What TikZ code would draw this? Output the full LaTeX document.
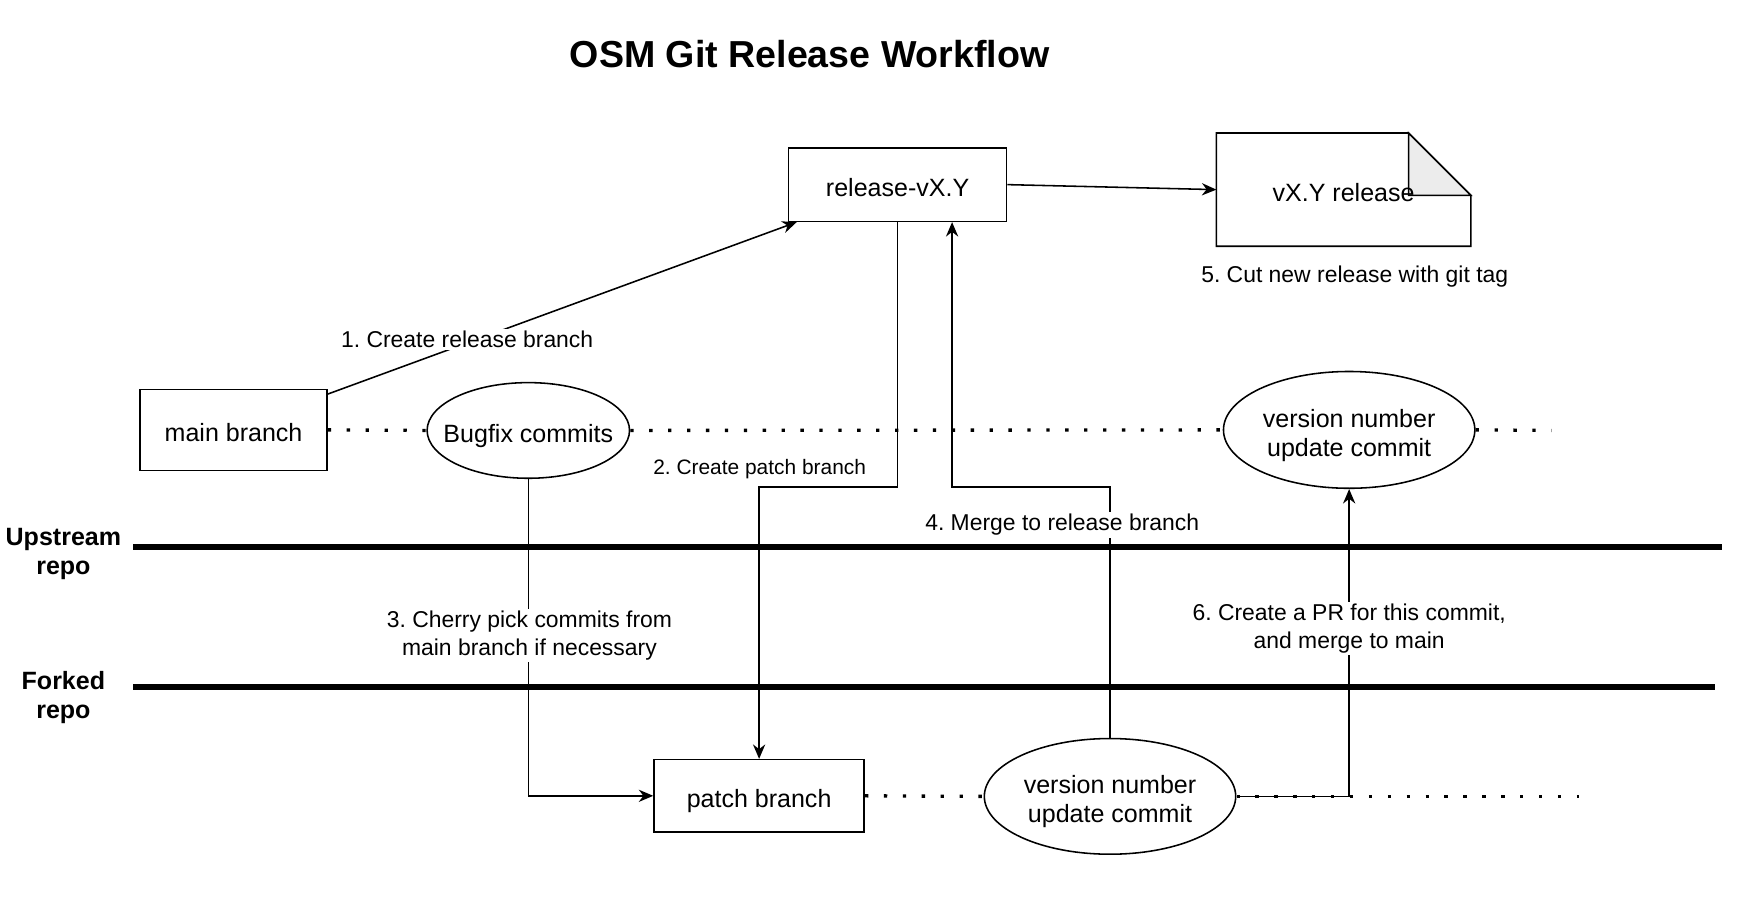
\documentclass[tikz,border=0pt]{standalone}
\usepackage{fontspec}
\setmainfont{Liberation Sans}
\usetikzlibrary{arrows.meta,shapes.geometric,calc,backgrounds}
\frenchspacing
\begin{document}
\frenchspacing
\begin{tikzpicture}[x=0.5pt,y=-0.5pt,
  nodefont/.style={font=\fontsize{11.25}{13}\selectfont},
  box/.style={draw,line width=0.7pt,rectangle,inner sep=0pt,nodefont,align=center,text height=10.5pt,text depth=0pt},
  oval/.style={draw,line width=0.7pt,ellipse,inner sep=0pt,nodefont,align=center},
  conn/.style={line width=0.7pt,-{Stealth[length=6.5pt,width=5.5pt]}},
  plainline/.style={line width=0.7pt},
  dots/.style={line width=1.5pt,dash pattern=on 1.5pt off 7pt},
  lbl/.style={fill=white,inner sep=1pt,font=\fontsize{10.3}{12.5}\selectfont,align=center},
  sepline/.style={line width=2.6pt},
  side/.style={font=\bfseries\fontsize{11.25}{13}\selectfont,align=center}]
\useasboundingbox (0,0) rectangle (1568,813);

% title
\node[font=\bfseries\fontsize{16.9}{20}\selectfont] (title) at (728,49) {OSM Git Release Workflow};

% nodes
\node[box,minimum width=98pt,minimum height=33pt] (rel) at (807,166) {release-vX.Y};
\node[nodefont,inner sep=0pt,minimum width=114pt,minimum height=50.5pt,text height=10.5pt,text depth=0pt] (doc) at (1208,170.5) {vX.Y release};
\begin{scope}[on background layer]
  \draw[line width=0.7pt,fill=white] (doc.north west) -- ($(doc.north east)+(-28pt,0)$) -- ($(doc.north east)+(0,-28pt)$) -- (doc.south east) -- (doc.south west) -- cycle;
  \draw[line width=0.7pt,fill=gray!15] ($(doc.north east)+(-28pt,0)$) -- ($(doc.north east)+(-28pt,-28pt)$) -- ($(doc.north east)+(0,-28pt)$) -- cycle;
\end{scope}
\node[lbl,fill=none] (l5) at (1218,249) {5. Cut new release with git tag};

\node[box,minimum width=84pt,minimum height=36.5pt] (main) at (210,386.5) {main branch};
\node[oval,inner xsep=-6pt,minimum width=91pt,minimum height=43pt,text height=10.5pt,text depth=0pt] (bug) at (475,387) {Bugfix commits};
\node[oval,minimum width=113pt,minimum height=52.5pt,text height=23.8pt,text depth=0pt] (ver1) at (1213,386.5) {version number\\update commit};
\node[box,minimum width=94.5pt,minimum height=32.5pt] (patch) at (682.5,715.5) {patch branch};
\node[oval,minimum width=113pt,minimum height=52pt,text height=23.8pt,text depth=0pt] (ver2) at (998,716) {version number\\update commit};

% side labels and separators
\node[side] (up) at (57,498) {Upstream\\repo};
\node[side] (fork) at (57,627) {Forked\\repo};
\coordinate (upA) at (120,492);
\coordinate (upB) at (1548,492);
\coordinate (fkA) at (120,618);
\coordinate (fkB) at (1542,618);
\draw[sepline] (upA) -- (upB);
\draw[sepline] (fkA) -- (fkB);

% dotted branch lines
\coordinate (end1) at (1395,387);
\coordinate (end2) at (1420,716);
\draw[dots] (main.east) -- (bug.west);
\draw[dots] (bug.east) -- (ver1.west);
\draw[dots] (ver1.east) -- (end1);
\draw[dots] (patch.east) -- (ver2.west);
\draw[dots] (ver2.east) -- (end2);

% connectors
\draw[conn] ([yshift=-2.5pt]main.north east) -- ([xshift=4pt]rel.south west);
\draw[conn] (rel.east) -- (doc.west);
\coordinate (c2) at (807,438);
\draw[conn] (rel.south) -- (c2) -| (patch.north);
\draw[conn] (bug.south) |- (patch.west);
\coordinate (c4) at (856,438);
\draw[conn] (ver2.north) |- (c4) -- (c4 |- rel.south);
\draw[conn] (ver2.east) -| (ver1.south);

% labels
\node[lbl] (l1) at (420,305) {1. Create release branch};
\node[lbl,font=\fontsize{9.4}{11}\selectfont] (l2) at (683,422) {2. Create patch branch};
\node[lbl] (l3) at (476,571.5) {3. Cherry pick commits from\\main branch if necessary};
\node[lbl] (l4) at (955,472) {4. Merge to release branch};
\node[lbl] (l6) at (1213,565) {6. Create a PR for this commit,\\and merge to main};
\end{tikzpicture}
\end{document}
